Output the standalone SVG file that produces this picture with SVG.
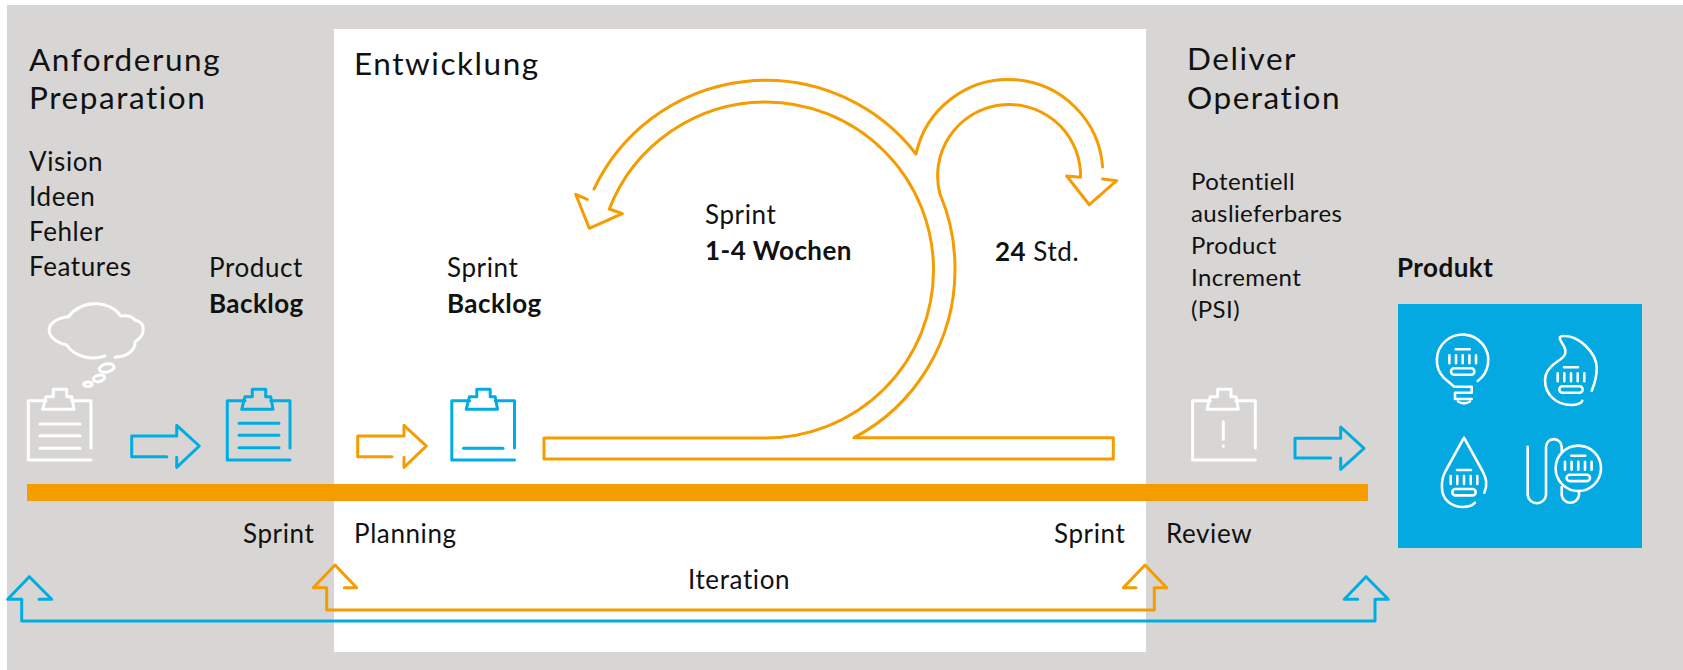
<svg xmlns="http://www.w3.org/2000/svg" xmlns:xlink="http://www.w3.org/1999/xlink" width="1683" height="670" viewBox="0 0 1683 670">
<style>
.o{fill:none;stroke:#f59c00;stroke-width:3;stroke-linecap:round;stroke-linejoin:round}
.b{fill:none;stroke:#00ade2;stroke-width:3;stroke-linecap:round;stroke-linejoin:round}
.w{fill:none;stroke:#fff;stroke-width:3;stroke-linecap:round;stroke-linejoin:round}
.i{fill:none;stroke:#fff;stroke-width:2.6;stroke-linecap:round;stroke-linejoin:round}
text{font-family:Lato,"Liberation Sans",sans-serif;fill:#111;font-size:26px;letter-spacing:.6px}
.h{font-size:31.5px;letter-spacing:1.55px}
.p{font-size:24px;letter-spacing:.4px}
.s{font-weight:700;letter-spacing:.45px}
</style>
<defs>
<g id="clip"><path d="M42.7,409.3 L46,396.7 H53.3 V389.3 H66.7 V396.7 H71.7 L74,409.3 Z M46,400.7 H28.3 V460 H91 M71.7,400.7 H91 V448"/></g>
<g id="meter"><path d="M-7,-10 H7 M-13.3,-4 V4 M-6.7,-4 V4 M0,-4 V4 M6.7,-4 V4 M13.3,-4 V4"/><rect x="-11.7" y="9" width="23.4" height="6.4" rx="3.2"/></g>
</defs>
<rect x="7" y="5" width="1676" height="665" fill="#d7d6d4"/>
<rect x="334" y="29" width="812" height="623" fill="#fff"/>
<rect x="27" y="484" width="1341" height="17" fill="#f59c00"/>
<g id="connectors">
<path class="o" d="M594,189 A190,190 0 0 1 916,154 A94.5,94.5 0 0 1 1102.6,167"/>
<path class="o" d="M587.3,199.3 L575.7,194.3 L589.3,228.3 L622.3,213.7 L609.3,209 A168,168 0 0 1 765,102 A168,168 0 0 1 933.5,270 A168,168 0 0 1 765,438 H544 V459 H1113.3 V437.7 H854 A190,190 0 0 0 955,270 A190,190 0 0 0 939.8,193.5 A71.5,71.5 0 1 1 1080.5,172 V177.3 L1066.7,176 L1089.3,204.7 L1116.7,180.7 L1102.7,179"/>
<path class="o" d="M392,456.7 H357.7 V436 H404 V425.3 L426.3,446 L404,467.3 V457.3"/>
<path class="b" d="M166.7,456.7 H131.7 V436 H176.7 V425.3 L199.3,446 L176.7,467.3 V457.3"/>
<path class="b" d="M1330.7,458 H1295 V438.3 H1340.7 V427 L1364,448.3 L1340.7,469.3 V458"/>
<path class="o" d="M344.3,587.7 H356.7 L335,565 L313.3,587.7 H326.7 V610 H1154.3 V587.7 H1166.7 L1145,565 L1123.3,587.7 H1136"/>
<path class="b" d="M39,599.3 H51.7 L29.3,576.7 L7.7,599.3 H21.7 V621 H1375 V599.3 H1388.3 L1366,576.7 L1344.3,599.3 H1357.7"/>
</g>
<g id="idea-cloud" class="w">
<path d="M115,357.3 C126,356.5 136,351 135,341.7 C145,336 147,323 135,320 C132,316 127,315 120.7,316 C111,301 83,298 68.3,316.7 C55,318 48,325 49.3,332 C51,339 60,344 66.7,345 C74,356 90,361 105,356"/>
<ellipse cx="106.7" cy="368" rx="7.5" ry="4" transform="rotate(-12 106.7 368)"/>
<ellipse cx="99" cy="378.3" rx="5.7" ry="3.2" transform="rotate(-12 99 378.3)"/>
<ellipse cx="88" cy="384.3" rx="4.2" ry="2.2"/>
</g>
<g id="clipboard-ideas" class="w"><use xlink:href="#clip"/><path d="M40,424 H80 M40,435.7 H80 M40,448.3 H80"/></g>
<g id="clipboard-product-backlog" class="b"><use xlink:href="#clip" x="199"/><path d="M239,423.3 H279 M239,435.3 H279 M239,447.7 H279"/></g>
<g id="clipboard-sprint-backlog" class="b"><use xlink:href="#clip" x="423.5"/><path d="M463.5,448.3 H503"/></g>
<g id="clipboard-psi" class="w"><use xlink:href="#clip" x="1164.3"/><path d="M1223.3,421.7 V439.3 M1223.3,446 V446.2"/></g>
<g id="product">
<rect x="1398" y="304" width="244" height="244" fill="#03a9e0"/>
<g class="i">
<use xlink:href="#meter" transform="translate(1462.7,359.3)"/>
<path d="M1477.7,381 A25.7,25.7 0 1 0 1444,378 L1454.3,386.7 H1471.7 V392.7 H1455 V399 H1471.7 M1458,401.5 C1462,404 1466,404 1470,401.5"/>
<use xlink:href="#meter" transform="translate(1571,377.3)"/>
<path d="M1591.7,390.7 C1595,383 1596.7,376 1596.7,368 C1596.7,352 1578,336 1565,336 C1558,335.5 1559,338 1562,343 C1568,352 1566,356 1558,361 C1549,367 1545,373 1545,380 C1545,395 1557,405 1571,405 C1577,405 1582,403 1582.3,400.7"/>
<use xlink:href="#meter" transform="translate(1464,480)"/>
<path d="M1484.3,492.7 C1488,484 1486,478 1483,472 L1464,437.7 L1445,472 C1441,480 1442,486 1442,488 C1442,500 1452,507 1463,507 C1469,507 1473,505 1475,502.7"/>
<use xlink:href="#meter" transform="translate(1578.3,465.7)"/>
<circle cx="1578.3" cy="468.3" r="22.7"/>
<path d="M1527.7,446.7 V495 A9.2,9.2 0 0 0 1546,495 V447 A7.8,7.8 0 0 1 1561.7,447 V451 M1561.7,487 V495 A8.7,8.7 0 0 0 1579,495 V491"/>
</g>
</g>
<g id="labels">
<text class="h" x="29" y="71">Anforderung</text>
<text class="h" x="29" y="109">Preparation</text>
<text class="h" x="354" y="75">Entwicklung</text>
<text class="h" x="1187" y="70">Deliver</text>
<text class="h" x="1187" y="109">Operation</text>
<text x="29" y="171">Vision</text><text x="29" y="206">Ideen</text><text x="29" y="241">Fehler</text><text x="29" y="276">Features</text>
<text x="209" y="277">Product</text><text class="s" x="209" y="313">Backlog</text>
<text x="447" y="277">Sprint</text><text class="s" x="447" y="313">Backlog</text>
<text x="705" y="224">Sprint</text><text class="s" x="705" y="260">1-4 Wochen</text>
<text x="995" y="261"><tspan class="s">24</tspan> Std.</text>
<text class="p" x="1191" y="190">Potentiell</text><text class="p" x="1191" y="222">auslieferbares</text><text class="p" x="1191" y="254">Product</text><text class="p" x="1191" y="286">Increment</text><text class="p" x="1191" y="318">(PSI)</text>
<text class="s" x="1397" y="277">Produkt</text>
<text x="243" y="543">Sprint</text><text x="354" y="543">Planning</text><text x="1054" y="543">Sprint</text><text x="1166" y="543">Review</text>
<text x="688" y="589">Iteration</text>
</g>
</svg>
